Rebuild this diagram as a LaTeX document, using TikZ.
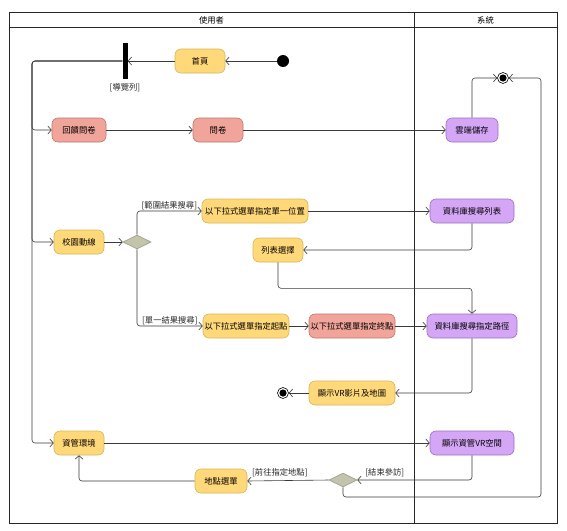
\documentclass[tikz,border=0pt]{standalone}
\usepackage{fontspec}
\newfontfamily\cjk{Noto Sans CJK TC}
\usetikzlibrary{arrows.meta,shapes.geometric}
\definecolor{yelF}{HTML}{FFD87A}
\definecolor{yelD}{HTML}{D6B656}
\definecolor{pnkF}{HTML}{F0A49A}
\definecolor{pnkD}{HTML}{C0776F}
\definecolor{purF}{HTML}{D4A6F5}
\definecolor{purD}{HTML}{9A72B8}
\definecolor{decF}{HTML}{C4C4AC}
\definecolor{decD}{HTML}{9A9A84}
\definecolor{lineC}{HTML}{3A3A3A}
\begin{document}
\begin{tikzpicture}[x=1pt,y=-1pt,
  act/.style={rounded corners=6pt, draw, line width=0.6pt, minimum height=24pt, inner sep=1.5pt, font=\cjk\fontsize{8.3}{9}\selectfont},
  yel/.style={act, fill=yelF, draw=yelD},
  pnk/.style={act, fill=pnkF, draw=pnkD},
  pur/.style={act, fill=purF, draw=purD},
  dec/.style={diamond, draw=decD, fill=decF, line width=0.6pt, minimum width=28pt, minimum height=14pt, inner sep=0pt},
  flow/.style={draw=lineC, line width=0.6pt, -{Straight Barb[length=3.5pt,width=8pt]}, rounded corners=3pt},
  lbl/.style={font=\cjk\fontsize{8.3}{9}\selectfont, text=black!85, inner sep=1pt},
  hdr/.style={font=\cjk\fontsize{8.3}{9}\selectfont},
  fin/.style={circle, draw=black, fill=white, line width=0.6pt, minimum size=11pt, inner sep=0pt}
]
\useasboundingbox (0,0) rectangle (567,530);
% frame
\draw[line width=0.9pt, black!85] (9,12) rectangle (557,523);
\draw[line width=0.9pt, black!85] (9,27.5) -- (557,27.5);
\draw[line width=0.9pt, black!85] (414,12) -- (414,523);
\node[hdr] (h1) at (211.5,20) {使用者};
\node[hdr] (h2) at (485.5,20) {系統};

% nodes
\node[circle, fill=black, minimum size=12pt, inner sep=0pt] (init) at (283,61) {};
\node[yel, minimum width=50pt] (home) at (200,61) {首頁};
\node[fill=black, minimum width=5pt, minimum height=36pt, inner sep=0pt] (bar) at (125,61) {};
\node[lbl] (barl) at (125,88) {[導覽列]};
\coordinate (bus) at (32,61);

\node[pnk, minimum width=54pt] (fb) at (79,130) {回饋問卷};
\node[pnk, minimum width=50pt] (q) at (218,130) {問卷};
\node[pur, minimum width=52pt] (cloud) at (472,130) {雲端儲存};
\node[fin] (f1) at (503,78) {};
\fill[black] (f1) circle (3.6pt);

\node[yel, minimum width=50pt] (campus) at (79,242) {校園動線};
\node[dec] (d1) at (137,242) {};
\node[yel, minimum width=106pt] (pos1) at (255,211) {以下拉式選單指定單一位置};
\node[pur, minimum width=84pt] (dblist) at (472,211) {資料庫搜尋列表};
\node[yel, minimum width=50pt] (listsel) at (278,250) {列表選擇};
\node[yel, minimum width=86pt] (start) at (246,326) {以下拉式選單指定起點};
\node[pnk, minimum width=86pt] (endp) at (352,326) {以下拉式選單指定終點};
\node[pur, minimum width=90pt] (dbpath) at (472,326) {資料庫搜尋指定路徑};
\node[yel, minimum width=86pt] (vrmap) at (352,393) {顯示VR影片及地圖};
\node[fin] (f2) at (283,393) {};
\fill[black] (f2) circle (3.6pt);

\node[yel, minimum width=50pt] (env) at (79,443) {資管環境};
\node[pur, minimum width=84pt] (vrspace) at (472,443) {顯示資管VR空間};
\node[dec] (d2) at (343,480) {};
\node[yel, minimum width=52pt] (menu) at (221,481) {地點選單};
\coordinate (rc) at (541,497);

% connectors
\draw[flow] (init) -- (home);
\draw[flow] (home) -- (bar);
\draw[flow] (bar.west) -- (bus) |- (fb.west);
\draw[flow] (bar.west) -- (bus) |- (campus.west);
\draw[flow] (bar.west) -- (bus) |- (env.west);
\draw[flow] (fb) -- (q);
\draw[flow] (q) -- (cloud);
\draw[flow] (cloud.north) |- (f1.west);
\draw[flow] (campus) -- (d1);
\draw[flow] (d1.north) |- (pos1.west) node[lbl, pos=0.75, above] {[範圍結果搜尋]};
\draw[flow] (d1.south) |- (start.west) node[lbl, pos=0.75, above] {[單一結果搜尋]};
\draw[flow] (pos1) -- (dblist);
\draw[flow] (dblist.south) |- (listsel.east);
\draw[flow] (listsel.south) -- ++(0,26) -| (dbpath.north);
\draw[flow] (start) -- (endp);
\draw[flow] (endp) -- (dbpath);
\draw[flow] (dbpath.south) |- (vrmap.east);
\draw[flow] (vrmap) -- (f2);
\draw[flow] (env) -- (vrspace);
\draw[flow] (vrspace.south) |- (d2.east) node[lbl, pos=0.88, above=2pt] {[結束參訪]};
\draw[flow] (d2.west) -- (menu.east) node[lbl, pos=0.6, above=2pt] {[前往指定地點]};
\draw[flow] (menu.west) -| (env.south);
\draw[flow] (d2.south) |- (rc) |- (f1.east);
\end{tikzpicture}
\end{document}
